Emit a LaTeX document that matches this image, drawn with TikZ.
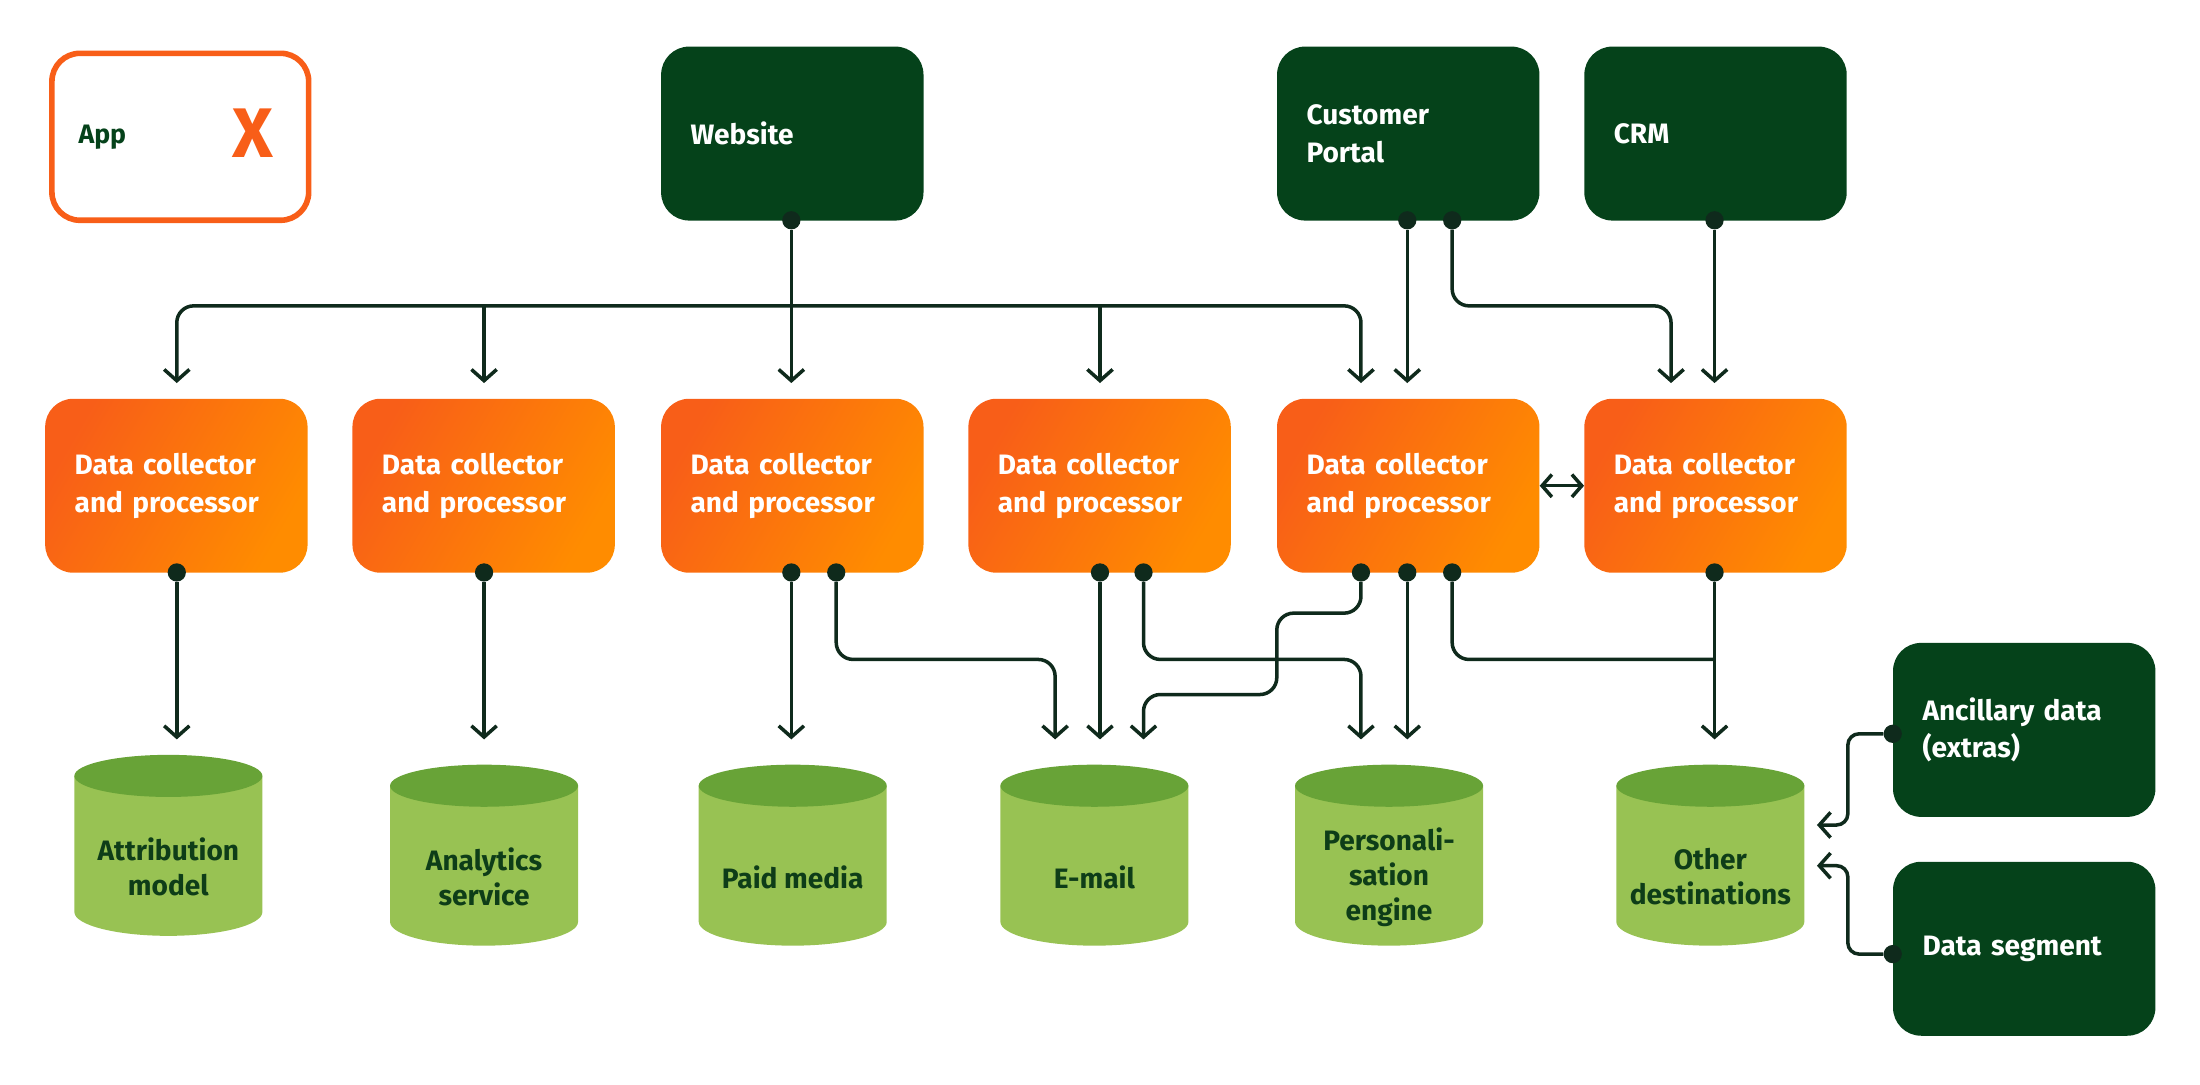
\documentclass[tikz,border=0pt]{standalone}
\usepackage{fontspec}
\setmainfont{Fira Sans}
\usetikzlibrary{arrows.meta}
\definecolor{dg}{HTML}{05421A}
\definecolor{ln}{HTML}{0F2A1C}
\definecolor{orA}{HTML}{F85E18}
\definecolor{orB}{HTML}{FF8C00}
\definecolor{cylT}{HTML}{68A337}
\definecolor{cylB}{HTML}{98C253}
\definecolor{cylTx}{HTML}{0E3D18}
\begin{document}
\begin{tikzpicture}[x=1pt,y=-1pt,
  box/.style={rectangle,rounded corners=20pt,minimum width=187pt,minimum height=124pt,anchor=north west,text width=145pt,align=left,inner sep=0pt,font=\fontsize{20}{27}\selectfont\bfseries},
  src/.style={box,fill=dg,text=white},
  col/.style={box,left color=orA,right color=orB,shading angle=60,text=white},
  cyl/.style={font=\fontsize{20}{25}\selectfont\bfseries,text=cylTx,align=center},
  ar/.style={draw=ln,line width=2.5pt,rounded corners=12pt,-{Straight Barb[length=8pt,width=18pt,line width=2.5pt]}},
  ln/.style={draw=ln,line width=2.5pt,rounded corners=12pt},
  dot/.style={circle,fill=ln,inner sep=0pt,minimum size=13pt}]
\useasboundingbox (0,0) rectangle (1568,773);
% App box
\node[box,draw=orA,line width=4pt,fill=white,minimum width=183pt,minimum height=119pt,text=dg] (app) at (35,36) {\fontsize{19}{22}\selectfont App};
\node[text=orA,font=\fontsize{50}{50}\selectfont\bfseries] (x) at (180,95) {X};
% sources
\node[src] (web) at (471,33) {Website};
\node[src] (cp) at (910,33) {Customer\\Portal};
\node[src] (crm) at (1129,33) {CRM};
\node[src] (anc) at (1349,458) {Ancillary data\\(extras)};
\node[src] (seg) at (1349,614) {Data segment};
% collectors
\foreach \i/\x in {1/32,2/251,3/471,4/690,5/910,6/1129}
  \node[col] (c\i) at (\x,284) {Data collector\\and processor};
% cylinders
\foreach \n/\cx/\t/\lab in {d1/120/538/{Attribution\\model},d2/345/545/{Analytics\\service},d3/565/545/{Paid media},d4/780/545/{E-mail},d5/990/545/{Personali-\\sation\\engine},d6/1219/545/{Other\\destinations}}{
  \fill[cylB] (\cx-67,\t+15) -- (\cx-67,\t+112) arc[start angle=180,end angle=360,x radius=67,y radius=-17] -- (\cx+67,\t+15) -- cycle;
  \fill[cylT] (\cx,\t+15) ellipse[x radius=67,y radius=15];
  \node[cyl] (\n) at (\cx,\t+80) {\lab};
}
% top
\node[dot] (wd) at (564,157) {};
\node[dot] (cpa) at (1003,157) {};
\node[dot] (cpb) at (1035,157) {};
\node[dot] (crd) at (1222,157) {};
\draw[ar] (wd) -- (564,273);
\draw[ar] (564,218) -- (126,218) -- (126,273);
\draw[ar] (345,218) -- (345,273);
\draw[ar] (564,218) -- (970,218) -- (970,273);
\draw[ar] (784,218) -- (784,273);
\draw[ar] (cpa) -- (1003,273);
\draw[ar] (cpb) -- (1035,218) -- (1191,218) -- (1191,273);
\draw[ar] (crd) -- (1222,273);
\draw[draw=ln,line width=2.5pt,{Straight Barb[length=7pt,width=16pt,line width=2.5pt]}-{Straight Barb[length=7pt,width=16pt,line width=2.5pt]}] (c5.east) -- (c6.west);
% bottom
\foreach \n/\x in {b1/126,b2/345,b3/564,b3b/596,b4/784,b4b/815,b5a/970,b5b/1003,b5c/1035,b6/1222}
  \node[dot] (\n) at (\x,408) {};
\draw[ar] (b1) -- (126,527);
\draw[ar] (b2) -- (345,527);
\draw[ar] (b3) -- (564,527);
\draw[ar] (b3b) -- (596,470) -- (752,470) -- (752,527);
\draw[ar] (b4) -- (784,527);
\draw[ar] (b4b) -- (815,470) -- (970,470) -- (970,527);
\draw[ar] (b5a) -- (970,437) -- (910,437) -- (910,495) -- (815,495) -- (815,527);
\draw[ar] (b5b) -- (1003,527);
\draw[ln] (b5c) -- (1035,470) -- (1222,470);
\draw[ar] (b6) -- (1222,527);
% right inputs
\node[dot] (ad) at (1349,523) {};
\node[dot] (sd) at (1349,680) {};
\draw[ar,rounded corners=8pt] (ad) -- (1317,523) -- (1317,588) -- (1295,588);
\draw[ar,rounded corners=8pt] (sd) -- (1317,680) -- (1317,617) -- (1295,617);
\end{tikzpicture}
\end{document}
